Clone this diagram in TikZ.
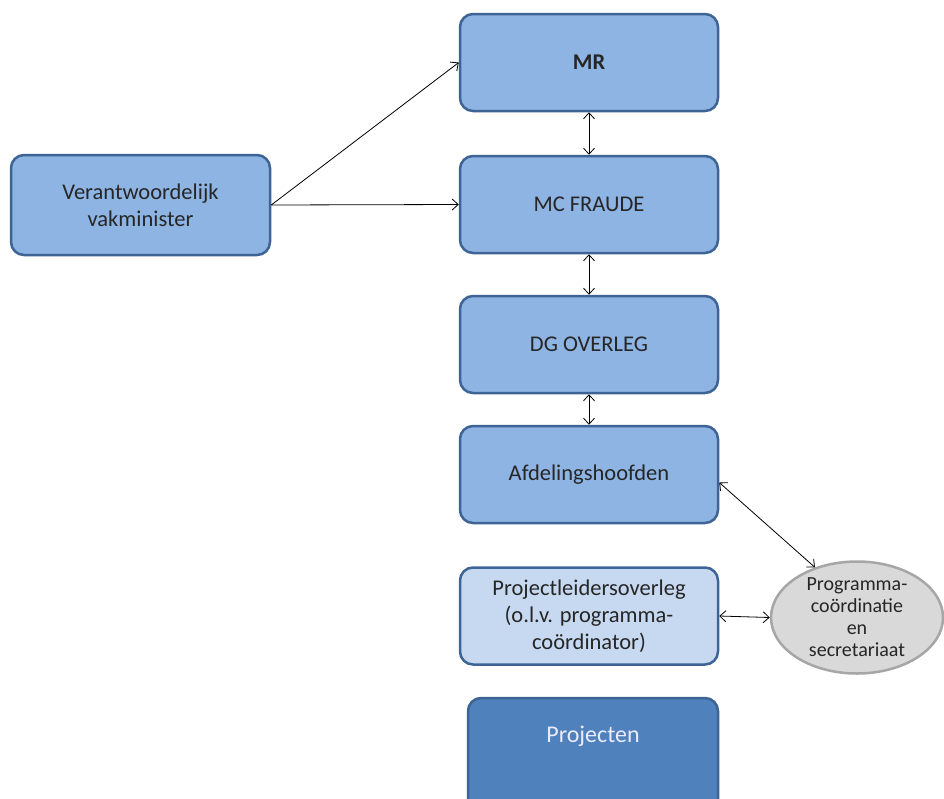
\documentclass[tikz,border=0pt]{standalone}
\usepackage{fontspec}
\setmainfont{Carlito}
\usetikzlibrary{arrows.meta,shapes.geometric}
\definecolor{boxfill}{HTML}{8EB4E3}
\definecolor{boxline}{HTML}{3D6494}
\definecolor{lightfill}{HTML}{C6D9F1}
\definecolor{darkfill}{HTML}{4F81BD}
\definecolor{greyfill}{HTML}{D9D9D9}
\definecolor{greyline}{HTML}{A6A6A6}
\begin{document}
\begin{tikzpicture}[x=1pt,y=-1pt,
  box/.style={draw=boxline, fill=boxfill, line width=2.5pt, rounded corners=13pt,
    minimum width=258pt, minimum height=97pt, align=center,
    font=\fontsize{22.5}{27}\selectfont, text=black!85},
  barb/.tip={Straight Barb[length=6pt,width=11pt]},
  link/.style={line width=0.8pt, barb-barb},
  oneway/.style={line width=0.8pt, -barb}]
\clip (0,0) rectangle (944,798);
\fill[white] (0,0) rectangle (944,798);

% main column
\node[box, font=\bfseries\fontsize{22.5}{27}\selectfont] (mr) at (589,62.5) {MR};
\node[box] (mc) at (589,204.5) {MC FRAUDE};
\node[box] (dg) at (589,344.5) {DG OVERLEG};
\node[box] (afd) at (589,474.5) {Afdelingshoofden};
\node[box, fill=lightfill] (pl) at (589,616) {Projectleidersoverleg\\(o.l.v. programma-\\coördinator)};

% bottom box runs off the lower edge; its label sits near the top
\node[box, fill=darkfill, minimum width=250pt, minimum height=120pt] (proj) at (593,758) {};
\node[font=\fontsize{24}{28}\selectfont, text=white!92!blue] (projlabel) at (593,736) {Projecten};

% minister on the left
\node[box, minimum width=259pt, minimum height=100pt] (min) at (140.5,205) {Verantwoordelijk\\vakminister};

% coordination ellipse
\node[draw=greyline, fill=greyfill, line width=2.5pt, ellipse, minimum width=172pt, minimum height=112pt,
  inner sep=0pt, align=center, font=\fontsize{20}{22}\selectfont, text=black!85] (prog) at (857,617.5)
  {Programma-\\coördinatie\\en\\secretariaat};

% connectors
\draw[oneway] (min.east) -- (mr.west);
\draw[oneway] (min.east) -- (mc.west);
\draw[link] (mr.south) -- (mc.north);
\draw[link] (mc.south) -- (dg.north);
\draw[link] (dg.south) -- (afd.north);
\draw[link] ([yshift=-8pt]afd.east) -- (prog.130);
\draw[link] (pl.east) -- (prog.west);
\end{tikzpicture}
\end{document}
